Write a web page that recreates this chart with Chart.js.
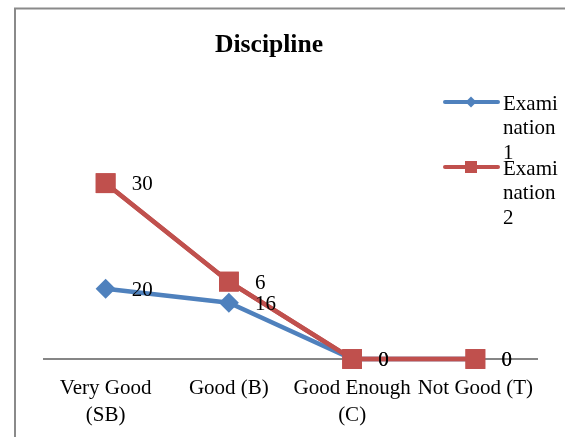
<!DOCTYPE html>
<html>
<head>
<meta charset="utf-8">
<script src="https://cdn.jsdelivr.net/npm/chart.js@4"></script>
<style>
  html, body { margin: 0; padding: 0; background: #fff; }
  canvas { display: block; }
</style>
</head>
<body>
<canvas id="chart" width="565" height="437"></canvas>
<script>
// Discipline scores per grade, stacked per examination
const chartTitle = 'Discipline';
const categories = [['Very Good', '(SB)'], 'Good (B)', ['Good Enough', '(C)'], 'Not Good (T)'];
const seriesNames = ['Examination 1', 'Examination 2'];
const exam1 = [20, 16, 0, 0];
const exam2 = [30, 6, 0, 0];
const yMax = 60;

const BLUE = '#4F81BD';
const RED = '#C0504D';
const SERIF = '"Liberation Serif", "Times New Roman", serif';

// White background, grey frame and the bold heading
const framePlugin = {
  id: 'frame',
  beforeDraw(chart) {
    const ctx = chart.ctx;
    ctx.save();
    ctx.fillStyle = '#fff';
    ctx.fillRect(0, 0, chart.width, chart.height);
    ctx.strokeStyle = '#8a8a8a';
    ctx.lineWidth = 2;
    ctx.strokeRect(15, 8.5, chart.width + 20, chart.height + 20);
    ctx.fillStyle = '#000';
    ctx.font = 'bold 25.6px ' + SERIF;
    ctx.textAlign = 'center';
    ctx.textBaseline = 'middle';
    ctx.fillText(chartTitle, 269, 45.5);
    ctx.restore();
  }
};

// Second series is stacked above the first but painted over it,
// then every point gets its value written to its right
const valueLabelPlugin = {
  id: 'valueLabels',
  afterDatasetsDraw(chart) {
    chart.getDatasetMeta(1).controller.draw();
    const ctx = chart.ctx;
    ctx.save();
    ctx.fillStyle = '#000';
    ctx.font = '21px ' + SERIF;
    ctx.textAlign = 'left';
    ctx.textBaseline = 'middle';
    chart.data.datasets.forEach((ds, di) => {
      const meta = chart.getDatasetMeta(di);
      meta.data.forEach((pt, i) => {
        ctx.fillText(String(ds.data[i]), pt.x + 26, pt.y + 1.5);
      });
    });
    ctx.restore();
  }
};

// Narrow legend on the right; names wrap character by character
function wrapChars(ctx, text, maxWidth) {
  const lines = [];
  let cur = '';
  for (const ch of text) {
    const next = cur + ch;
    if (cur && ctx.measureText(next.trimEnd()).width > maxWidth) {
      lines.push(cur.trim());
      cur = ch.trim();
    } else {
      cur = next;
    }
  }
  if (cur.trim()) lines.push(cur.trim());
  return lines;
}

const legendPlugin = {
  id: 'sideLegend',
  afterDraw(chart) {
    const ctx = chart.ctx;
    ctx.save();
    ctx.font = '21px ' + SERIF;
    chart.data.datasets.forEach((ds, di) => {
      const y = 102 + di * 65;
      ctx.strokeStyle = ds.borderColor;
      ctx.lineWidth = 4;
      ctx.lineCap = 'round';
      ctx.beginPath();
      ctx.moveTo(445, y);
      ctx.lineTo(498, y);
      ctx.stroke();
      ctx.fillStyle = ds.borderColor;
      if (ds.pointStyle === 'rectRot') {
        ctx.beginPath();
        ctx.moveTo(471, y - 5.5);
        ctx.lineTo(476.5, y);
        ctx.lineTo(471, y + 5.5);
        ctx.lineTo(465.5, y);
        ctx.closePath();
        ctx.fill();
      } else {
        ctx.fillRect(465, y - 6, 12, 12);
      }
      ctx.fillStyle = '#000';
      ctx.textAlign = 'left';
      ctx.textBaseline = 'middle';
      wrapChars(ctx, ds.label, 56).forEach((line, li) => {
        ctx.fillText(line, 503, y + 2 + li * 24.5);
      });
    });
    ctx.restore();
  }
};

const pointCommon = {
  borderWidth: 4.5,
  pointBorderWidth: 0,
  pointHoverRadius: 0,
  fill: false,
  tension: 0,
  clip: false
};

new Chart(document.getElementById('chart'), {
  type: 'line',
  data: {
    labels: categories,
    datasets: [
      Object.assign({
        label: seriesNames[0],
        data: exam1,
        borderColor: BLUE,
        backgroundColor: BLUE,
        pointBackgroundColor: BLUE,
        pointStyle: 'rectRot',
        pointRadius: 10
      }, pointCommon),
      Object.assign({
        label: seriesNames[1],
        data: exam2,
        borderColor: RED,
        backgroundColor: RED,
        pointBackgroundColor: RED,
        pointStyle: 'rect',
        pointRadius: 14
      }, pointCommon)
    ]
  },
  options: {
    responsive: false,
    animation: false,
    devicePixelRatio: 1,
    events: [],
    layout: { padding: { left: 44, right: 28, top: 148, bottom: 0 } },
    plugins: {
      legend: { display: false },
      tooltip: { enabled: false },
      title: { display: false }
    },
    scales: {
      x: {
        offset: true,
        grid: { display: false, drawTicks: false },
        border: { display: true, color: '#868686', width: 2 },
        ticks: {
          color: '#000',
          font: { family: SERIF, size: 21, lineHeight: 1.27 },
          padding: 16,
          maxRotation: 0,
          autoSkip: false
        },
        afterFit(scale) { scale.height = 78; }
      },
      y: {
        display: false,
        stacked: true,
        min: 0,
        max: yMax
      }
    }
  },
  plugins: [framePlugin, valueLabelPlugin, legendPlugin]
});
</script>
</body>
</html>
